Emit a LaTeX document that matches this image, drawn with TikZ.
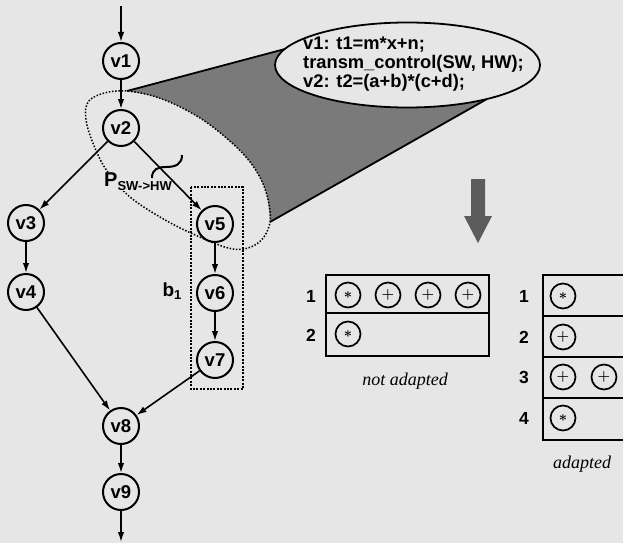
\documentclass[tikz,border=0pt]{standalone}
\usepackage{fontspec}
\setmainfont{Liberation Sans}
\newfontfamily\captionfont{Liberation Serif}
\usetikzlibrary{arrows.meta,shapes.geometric}
\definecolor{paper}{HTML}{E6E6E6}
\definecolor{conegray}{HTML}{7A7A7A}
\definecolor{bigarrow}{HTML}{5C5C5C}
\newcommand{\lowsub}[1]{\raisebox{-0.35ex}{\fontsize{13}{13}\selectfont #1}}

\begin{document}
\begin{tikzpicture}[x=1pt, y=-1pt,
  vnode/.style={circle, draw, line width=2pt, minimum size=36pt, inner sep=0pt, fill=paper,
    font=\fontsize{18.5}{18.5}\selectfont\bfseries},
  pnode/.style={circle, draw, line width=1.7pt, minimum size=25pt, inner sep=0pt,
    font=\fontsize{15}{15}\selectfont\boldmath},
  rowlabel/.style={font=\fontsize{17.5}{17.5}\selectfont\bfseries},
  caption/.style={font=\captionfont\itshape\fontsize{18}{18}\selectfont},
  edge/.style={line width=1.6pt, -{Latex[length=10pt,width=6.5pt]}},
  pdots/.style={line width=1.5pt, dash pattern=on 1.5pt off 1.7pt},
  bdots/.style={line width=2.8pt, dash pattern=on 2pt off 1.4pt},
  tabline/.style={line width=2.1pt}
]
  \useasboundingbox (0,0) rectangle (623,543);
  \fill[paper] (0,0) rectangle (623,543);

  % Zoom cone from the region P to the code
  \coordinate (apex) at (127,91);
  \coordinate (rim) at (270,222);
  \coordinate (coneA) at (285,49);
  \coordinate (coneB) at (487,99);
  \fill[conegray] (apex) -- (coneA) -- (coneB) -- (rim)
    -- plot[smooth, tension=0.6] coordinates {(270,222) (266,192) (253,166) (232,143) (200,118) (162,99) (127,91)} -- cycle;
  \draw[line width=1.8pt] (apex) -- (coneA);
  \draw[line width=1.8pt] (rim) -- (coneB);

  % Region P (dotted)
  \draw[pdots] plot[smooth cycle, tension=0.6] coordinates {(127,91) (162,99) (200,118) (232,143) (253,166)
    (266,192) (270,222) (258,243) (233,249) (193,234) (160,217) (130,197) (110,175) (98,155) (87,125) (87,104) (101,94)};

  % Code of the region
  \node[draw, ellipse, line width=1.8pt, fill=paper, minimum width=265pt, minimum height=85pt, inner sep=0pt] (codebox) at (407.5,65) {};
  \node[align=left, anchor=west, inner sep=0pt, font=\fontsize{18.3}{19}\selectfont\bfseries] (codetext) at (303,64)
    {v1: t1=m*x+n;\\transm\_control(SW, HW);\\v2: t2=(a+b)*(c+d);};

  % Block b1 (dotted)
  \draw[bdots] (191,187) rectangle (243,389);

  % Graph
  \node[vnode] (v1) at (121,61) {v1};
  \node[vnode] (v2) at (121,128) {v2};
  \node[vnode] (v3) at (26,223) {v3};
  \node[vnode] (v4) at (26,292) {v4};
  \node[vnode] (v5) at (215,224) {v5};
  \node[vnode] (v6) at (215,293) {v6};
  \node[vnode] (v7) at (215,360) {v7};
  \node[vnode] (v8) at (121,426) {v8};
  \node[vnode] (v9) at (121,492) {v9};
  \coordinate (in) at (121,6);
  \coordinate (out) at (121,542);

  \node[fill=paper, inner sep=0pt, font=\fontsize{20}{20}\selectfont\bfseries] (plabel) at (138,182) {P\lowsub{SW->HW}};
  \node[font=\fontsize{19}{19}\selectfont\bfseries] (blabel) at (172,291) {b\lowsub{1}};

  \draw[edge] (in) -- (v1);
  \draw[edge] (v1) -- (v2);
  \draw[edge] (v2) -- (v3);
  \draw[edge] (v2) -- (v5);
  \draw[edge] (v3) -- (v4);
  \draw[edge] (v4) -- (v8);
  \draw[edge] (v5) -- (v6);
  \draw[edge] (v6) -- (v7);
  \draw[edge] (v7) -- (v8);
  \draw[edge] (v8) -- (v9);
  \draw[edge] (v9) -- (out);

  % Cut of the edge v2 -> v5
  \draw[line width=2pt] (152,178) .. controls (152,169) and (158,167) .. (166,167)
    .. controls (176,167) and (182,164) .. (182,155);

  % Big arrow
  \fill[bigarrow] (471,179) -- (485,179) -- (485,216) -- (492,216) -- (478,243) -- (464,216) -- (471,216) -- cycle;

  % Not adapted
  \draw[tabline] (326,275) rectangle (489,356);
  \draw[tabline] (326,313) -- (489,313);
  \node[rowlabel] (na1) at (311,296) {1};
  \node[rowlabel] (na2) at (311,335) {2};
  \node[pnode] (na11) at (348,295) {$\ast$};
  \node[pnode] (na12) at (388,295) {$+$};
  \node[pnode] (na13) at (428,295) {$+$};
  \node[pnode] (na14) at (468,295) {$+$};
  \node[pnode] (na21) at (348,334) {$\ast$};
  \node[caption] (nacap) at (405,381) {not adapted};

  % Adapted
  \draw[tabline] (624,275) -| (543,440) -- (624,440);
  \draw[tabline] (543,316) -- (624,316);
  \draw[tabline] (543,357) -- (624,357);
  \draw[tabline] (543,398) -- (624,398);
  \node[rowlabel] (ad1) at (524,296) {1};
  \node[rowlabel] (ad2) at (524,337) {2};
  \node[rowlabel] (ad3) at (524,377) {3};
  \node[rowlabel] (ad4) at (524,418) {4};
  \node[pnode] (ad11) at (563,296) {$\ast$};
  \node[pnode] (ad21) at (563,337) {$+$};
  \node[pnode] (ad31) at (563,377) {$+$};
  \node[pnode] (ad32) at (604,377) {$+$};
  \node[pnode] (ad41) at (563,418) {$\ast$};
  \node[caption] (adcap) at (582,464) {adapted};
\end{tikzpicture}
\end{document}
